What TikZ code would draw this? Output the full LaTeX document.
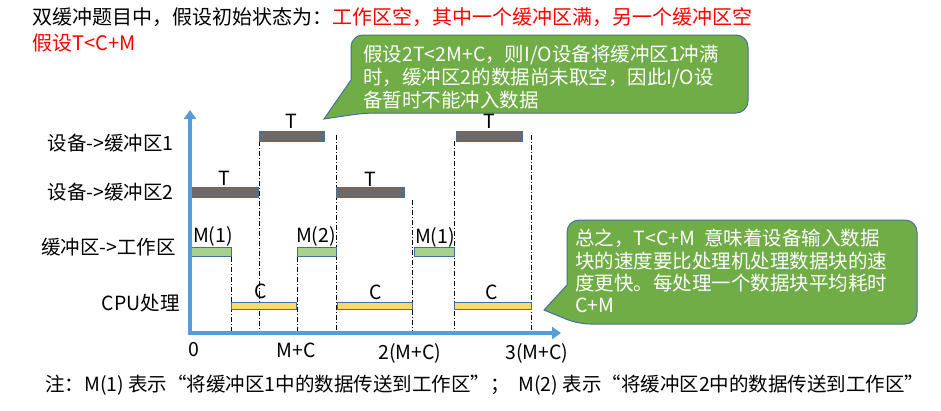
\documentclass[tikz,border=0pt]{standalone}
\usepackage{fontspec}
\setmainfont{Noto Sans CJK SC}
\usepackage{xcolor}
\usepackage{tikz}
\usetikzlibrary{arrows.meta}

\definecolor{axisblue}{HTML}{5B9BD5}
\definecolor{edgeblue}{HTML}{41719C}
\definecolor{notegreen}{HTML}{70AD47}
\definecolor{bargray}{HTML}{6A6A6A}
\definecolor{bargreen}{HTML}{A9D18E}
\definecolor{baryellow}{HTML}{FFD966}

\begin{document}
\begin{tikzpicture}[x=1pt, y=-1pt,
        every node/.style={inner sep=0pt, font=\fontsize{19.5}{23}\selectfont},
        devbar/.style={fill=bargray, draw=edgeblue, line width=0.8pt},
        movebar/.style={fill=bargreen, draw=edgeblue, line width=0.8pt},
        cpubar/.style={fill=baryellow, draw=edgeblue, line width=0.8pt},
        guide/.style={line width=0.8pt, dash pattern=on 5pt off 2pt on 1pt off 2pt},
        callout/.style={fill=notegreen, draw=edgeblue, line width=1pt},
        timeaxis/.style={axisblue, line width=4pt,
            {Triangle[width=12pt,length=9pt]}-{Triangle[width=12pt,length=9pt]}}]

        \useasboundingbox (0,0) rectangle (941,410);

        % heading
        \node[anchor=west, font=\fontsize{20}{24}\selectfont] (head) at (32,17)
            {双缓冲题目中，假设初始状态为：\textcolor{red}{工作区空，其中一个缓冲区满，另一个缓冲区空}};
        \node[anchor=west, red, font=\fontsize{20}{24}\selectfont] (assume) at (32,43) {假设T<C+M};

        % callouts
        \draw[callout] (351,80) [rounded corners=12pt] -- (351,35) -- (748,35) -- (748,113) -- (364,113)
            [sharp corners] -- (324,119) -- cycle;
        \node[anchor=north west, align=left, white] (note1) at (363,45)
            {假设2T<2M+C，则I/O设备将缓冲区1冲满\\时，缓冲区2的数据尚未取空，因此I/O设\\备暂时不能冲入数据};

        \draw[callout] (567,285) [rounded corners=12pt] -- (567,220) -- (917,220) -- (917,324) -- (578,324)
            [sharp corners] -- (544,310) -- cycle;
        \node[anchor=north west, align=left, white, font=\fontsize{19.5}{22.3}\selectfont] (note2) at (575,229)
            {总之，T<C+M~~意味着设备输入数据\\块的速度要比处理机处理数据块的速\\度更快。每处理一个数据块平均耗时\\C+M};

        % row labels
        \node[anchor=east] (dev1) at (174,143) {设备->缓冲区1};
        \node[anchor=east] (dev2) at (174,192) {设备->缓冲区2};
        \node[anchor=east] (move) at (176,247) {缓冲区->工作区};
        \node[anchor=east] (cpu) at (180,303) {CPU处理};

        % guide lines
        \draw[guide] (231,257) -- (231,333);
        \draw[guide] (259,141) -- (259,333);
        \draw[guide] (297,257) -- (297,333);
        \draw[guide] (336,135) -- (336,333);
        \draw[guide] (412,200) -- (412,333);
        \draw[guide] (454,141) -- (454,333);
        \draw[guide] (531,135) -- (531,333);

        % device -> buffer 1
        \draw[devbar] (259,131) rectangle (324,141);
        \draw[devbar] (456,131) rectangle (522,141);
        \node (t1) at (291,121) {T};
        \node (t3) at (489,121) {T};

        % device -> buffer 2
        \draw[devbar] (191,187) rectangle (258,197);
        \draw[devbar] (336,187) rectangle (404,197);
        \node (t0) at (224,178) {T};
        \node (t2) at (370,179) {T};

        % buffer -> work area
        \draw[movebar] (191,247) rectangle (231,256);
        \draw[movebar] (297,247) rectangle (336,256);
        \draw[movebar] (414,247) rectangle (454,256);
        \node (m1a) at (213,236) {M(1)};
        \node (m2) at (316,236) {M(2)};
        \node (m1b) at (435,237) {M(1)};

        % cpu
        \draw[cpubar] (231,302) rectangle (296,309);
        \draw[cpubar] (337,302) rectangle (412,309);
        \draw[cpubar] (454,302) rectangle (531,309);
        \node (c1) at (261,291) {C};
        \node (c2) at (376,292) {C};
        \node (c3) at (492,292) {C};

        % axes
        \draw[timeaxis] (190,110) -- (190,333) -- (561,333);
        \node (zero) at (194,350) {0};
        \node (one) at (296,350) {M+C};
        \node (two) at (410,353) {2(M+C)};
        \node (three) at (537,353) {3(M+C)};

        % footnote
        \node[anchor=west] (foot) at (45,385)
            {注：M(1) 表示“将缓冲区1中的数据传送到工作区”；~~M(2) 表示“将缓冲区2中的数据传送到工作区”};
\end{tikzpicture}
\end{document}
